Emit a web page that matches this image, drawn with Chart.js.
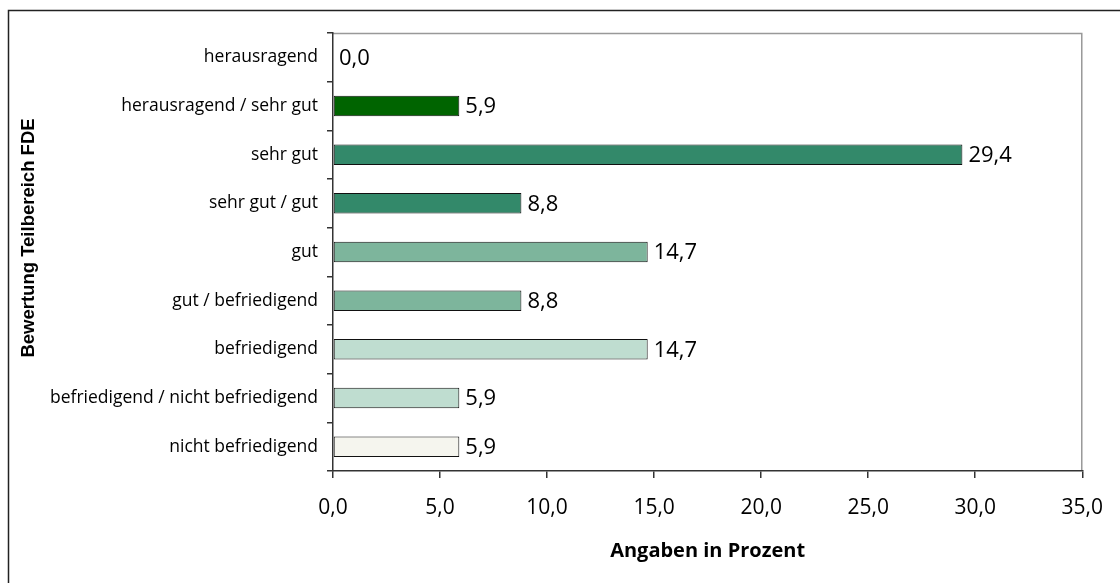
<!DOCTYPE html>
<html><head><meta charset="utf-8">
<script src="https://cdn.jsdelivr.net/npm/chart.js@4"></script>
<style>html,body{margin:0;padding:0;background:#fff}#wrap{width:1120px;height:583px;position:relative}</style>
</head><body><div id="wrap"><canvas id="c" width="1120" height="583"></canvas></div>
<script>
const categories = ["herausragend","herausragend / sehr gut","sehr gut","sehr gut / gut","gut","gut / befriedigend","befriedigend","befriedigend / nicht befriedigend","nicht befriedigend"];
const values = [0.0, 5.9, 29.4, 8.8, 14.7, 8.8, 14.7, 5.9, 5.9];
const barColors = ["#006400","#006400","#33896a","#33896a","#7db59c","#7db59c","#bfddd0","#bfddd0","#f5f5ee"];
const xTicks = [0,5,10,15,20,25,30,35];
const xTitle = "Angaben in Prozent";
const yTitle = "Bewertung Teilbereich FDE";
const FONT = "'Open Sans', sans-serif";
const fmt = v => v.toFixed(1).replace('.', ',');

const framePlugin = {
  id: 'frame',
  beforeDraw(chart) {
    const ctx = chart.ctx;
    ctx.save();
    ctx.fillStyle = '#fff';
    ctx.fillRect(0, 0, chart.width, chart.height);
    ctx.strokeStyle = '#222';
    ctx.lineWidth = 1.5;
    ctx.strokeRect(8.5, 10.5, 1300, 700);
    const a = chart.chartArea;
    ctx.strokeStyle = '#999';
    ctx.lineWidth = 1.5;
    ctx.beginPath();
    ctx.moveTo(a.left, a.top + 0.5);
    ctx.lineTo(a.right - 0.5, a.top + 0.5);
    ctx.lineTo(a.right - 0.5, a.bottom);
    ctx.stroke();
    // y axis title
    ctx.translate(29, 238);
    ctx.rotate(-Math.PI / 2);
    ctx.font = "bold 18.5px 'Liberation Sans', Arial, sans-serif";
    ctx.fillStyle = '#000';
    ctx.textAlign = 'center';
    ctx.textBaseline = 'middle';
    ctx.fillText(yTitle, 0, 0);
    ctx.restore();
  },
  afterDatasetsDraw(chart) {
    const ctx = chart.ctx;
    const meta = chart.getDatasetMeta(0);
    ctx.save();
    ctx.font = "22px " + FONT;
    ctx.fillStyle = '#000';
    ctx.textBaseline = 'middle';
    ctx.textAlign = 'left';
    meta.data.forEach((el, i) => {
      ctx.fillText(fmt(values[i]), el.x + 6, el.y + 1);
    });
    ctx.restore();
  }
};

new Chart(document.getElementById('c'), {
  type: 'bar',
  data: {
    labels: categories,
    datasets: [{
      data: values,
      backgroundColor: barColors,
      borderColor: '#111',
      borderWidth: 1,
      borderSkipped: false,
      barPercentage: 0.42,
      categoryPercentage: 1
    }]
  },
  options: {
    indexAxis: 'y',
    responsive: false,
    animation: false,
    layout: { padding: { left: 8, top: 33, right: 33, bottom: 0 } },
    plugins: { legend: { display: false }, tooltip: { enabled: false } },
    scales: {
      x: {
        min: 0, max: 35,
        afterBuildTicks(scale) { scale.ticks = xTicks.map(v => ({ value: v })); },
        afterFit(scale) { scale.height = 112; },
        border: { color: '#333', width: 1.5 },
        grid: { drawOnChartArea: false, drawTicks: true, tickLength: 7, color: '#333', lineWidth: 1.5 },
        ticks: { color: '#000', font: { family: FONT, size: 21 }, padding: 17, callback: v => fmt(v), maxRotation: 0 },
        title: { display: true, text: xTitle, color: '#000', font: { family: FONT, size: 20, weight: 'bold' }, padding: { top: 0, bottom: 20 } }
      },
      y: {
        afterFit(scale) { scale.width = 325; },
        border: { color: '#333', width: 1.5 },
        grid: { drawOnChartArea: false, drawTicks: true, tickLength: 6, color: '#333', lineWidth: 1.5 },
        ticks: { color: '#000', font: { family: FONT, size: 17.5 }, padding: 9, autoSkip: false },
        title: { display: false }
      }
    }
  },
  plugins: [framePlugin]
});
</script></body></html>
